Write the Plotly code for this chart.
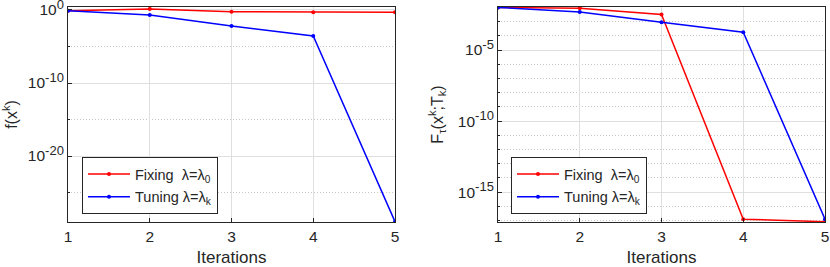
import plotly.graph_objects as go

iterations = [1, 2, 3, 4, 5]

# Left panel: f(x^k)
f_fixing = [10**-0.1, 10**0.14, 10**-0.23, 10**-0.3, 10**-0.3]
f_tuning = [10**-0.1, 10**-0.7, 10**-2.2, 10**-3.55, 10**-29.0]

# Right panel: F_tau(x^k;T_k)
F_fixing = [10**-2.0, 10**-2.06, 10**-2.49, 10**-16.9, 10**-17.08]
F_tuning = [10**-2.0, 10**-2.32, 10**-3.05, 10**-3.75, 10**-16.9]

name_fixing = "Fixing  λ=λ<sub>0</sub>"
name_tuning = "Tuning λ=λ<sub>k</sub>"

left_major = [-20, -10, 0]
left_minor = [-25, -15, -5]
right_major = [-15, -10, -5]
right_minor = [-17, -16, -14, -13, -12, -11, -9, -8, -7, -6, -4, -3, -2]

RED = "#FF0000"
BLUE = "#0000FF"
TXT = "#262626"
FONT = "Liberation Sans, Arial, Helvetica, sans-serif"

fig = go.Figure()

def add(x, y, color, name, xa, ya, leg, grp):
    fig.add_trace(go.Scatter(
        x=x, y=y, mode="lines+markers", name=name,
        line=dict(color=color, width=1.5),
        marker=dict(color=color, size=4),
        xaxis=xa, yaxis=ya, legend=leg, legendgroup=grp, showlegend=True,
        hoverinfo="skip",
    ))

add(iterations, f_fixing, RED, name_fixing, "x", "y", "legend", "a1")
add(iterations, f_tuning, BLUE, name_tuning, "x", "y", "legend", "a2")
add(iterations, F_fixing, RED, name_fixing, "x2", "y2", "legend2", "b1")
add(iterations, F_tuning, BLUE, name_tuning, "x2", "y2", "legend2", "b2")

def sup(e):
    return f"10<sup><span style='font-size:13px'>{e}</span></sup>"

W, H = 830, 267
top = 1 - 7 / H
bot = 1 - 222 / H

xcommon = dict(
    range=[1, 5], tickvals=iterations, ticktext=[str(v) for v in iterations],
    showgrid=True, gridcolor="#DFDFDF", gridwidth=1,
    showline=True, linecolor=TXT, linewidth=1, mirror=True,
    ticks="inside", ticklen=4, tickcolor=TXT,
    tickfont=dict(size=15.5, color=TXT, family=FONT),
    ticklabeloverflow="allow",
    title=dict(text="Iterations", font=dict(size=17, color=TXT, family=FONT), standoff=12),
    zeroline=False,
)

ycommon = dict(
    type="log",
    showgrid=True, gridcolor="#DFDFDF", gridwidth=1,
    showline=True, linecolor=TXT, linewidth=1, mirror=True,
    ticks="inside", ticklen=4, tickcolor=TXT,
    tickfont=dict(size=15.5, color=TXT, family=FONT),
    ticklabeloverflow="allow",
    zeroline=False,
)

legcommon = dict(
    xanchor="left", yanchor="top",
    bgcolor="white", bordercolor=TXT, borderwidth=1,
    font=dict(size=14.5, color=TXT, family=FONT),
    tracegroupgap=1,
    itemwidth=42,
    entrywidth=88,
)

fig.update_layout(
    width=W, height=H,
    margin=dict(l=0, r=0, t=0, b=0, autoexpand=False),
    paper_bgcolor="white", plot_bgcolor="white",
    font=dict(family=FONT, color=TXT),
    hovermode=False,
    xaxis=dict(domain=[68 / W, 395 / W], anchor="y", **xcommon),
    xaxis2=dict(domain=[498 / W, 825 / W], anchor="y2", **xcommon),
    yaxis=dict(
        domain=[bot, top], anchor="x",
        range=[-29.04, 0.41],
        tickmode="array", tickvals=[10**e for e in left_major],
        ticktext=[sup(e) for e in left_major],
        minor=dict(tickmode="array", tickvals=[10**e for e in left_minor],
                   showgrid=True, gridcolor="#C8C8C8", griddash="1px,2px",
                   ticks="inside", ticklen=2, tickcolor=TXT),
        title=dict(text="f(x<sup>k</sup>)", font=dict(size=16, color=TXT, family=FONT), standoff=7),
        **ycommon,
    ),
    yaxis2=dict(
        domain=[bot, top], anchor="x2",
        range=[-17.1, -1.97],
        tickmode="array", tickvals=[10**e for e in right_major],
        ticktext=[sup(e) for e in right_major],
        minor=dict(tickmode="array", tickvals=[10**e for e in right_minor],
                   showgrid=True, gridcolor="#C8C8C8", griddash="1px,2px",
                   ticks="inside", ticklen=2, tickcolor=TXT),
        title=dict(text="F<sub>τ</sub>(x<sup>k</sup>;T<sub>k</sub>)",
                   font=dict(size=16, color=TXT, family=FONT), standoff=10),
        **ycommon,
    ),
    legend=dict(x=82 / W, y=1 - 157 / H, **legcommon),
    legend2=dict(x=511 / W, y=1 - 157 / H, **legcommon),
)

fig.write_html("out.html", config={"displayModeBar": False},
               post_script="document.body.style.margin='0px';")
